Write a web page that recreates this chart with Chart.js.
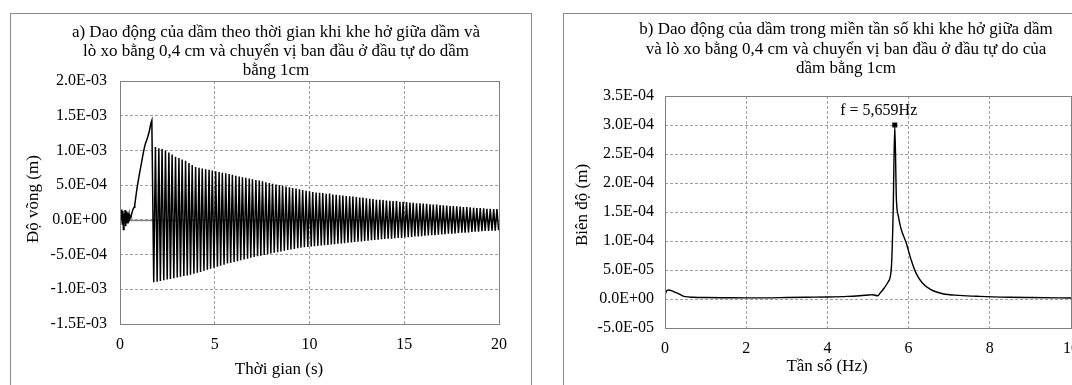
<!DOCTYPE html>
<html>
<head>
<meta charset="utf-8">
<script src="https://cdn.jsdelivr.net/npm/chart.js@4.4.0/dist/chart.umd.min.js"></script>
<style>
  html, body { margin: 0; padding: 0; background: #fff; }
  body { width: 1072px; height: 385px; overflow: hidden; position: relative; }
  .frame { position: absolute; top: 13px; height: 400px; border: 1px solid #8c8c8c; box-sizing: border-box; }
  #frameA { left: 10px; width: 522px; }
  #frameB { left: 563px; width: 560px; }
  canvas { position: absolute; }
  #chartA { left: 11px; top: 14px; width: 530px; height: 380px; }
  #chartB { left: 564px; top: 14px; width: 564px; height: 380px; }
</style>
</head>
<body>
<div class="frame" id="frameA"></div>
<div class="frame" id="frameB"></div>
<canvas id="chartA" width="530" height="380"></canvas>
<canvas id="chartB" width="564" height="380"></canvas>
<script>
// ---------- a) time response, deflection in 1e-4 m ----------
const startTime = [0, 0.03, 0.06, 0.09, 0.12, 0.15, 0.18, 0.21, 0.24, 0.27, 0.30, 0.33, 0.36, 0.39, 0.42, 0.45, 0.48, 0.51, 0.54,
  0.58, 0.62, 0.68, 0.74, 0.78, 0.84, 0.90, 0.98, 1.05, 1.12, 1.20, 1.27, 1.33, 1.40, 1.47, 1.55, 1.62, 1.68];
const startDefl = [0.1, 0.2, 0.1, 1.5, -0.6, 1.3, -1.4, 0.9, -0.3, 1.4, -0.9, 0.6, 1.2, -0.4, 1.0, 0.2, 0.8, 0.1, 0.3,
  0.4, 0.9, 1.5, 1.8, 2.2, 3.4, 4.6, 5.9, 7.0, 8.0, 9.2, 10.2, 10.9, 11.4, 12.0, 12.8, 13.8, 14.3];

const troughTime = [1.78, 1.96, 2.13, 2.31, 2.49, 2.66, 2.84, 3.02, 3.19, 3.37,
  3.55, 3.72, 3.90, 4.08, 4.25, 4.43, 4.61, 4.78, 4.96, 5.14,
  5.31, 5.49, 5.67, 5.84, 6.02, 6.20, 6.37, 6.55, 6.73, 6.90,
  7.08, 7.26, 7.43, 7.61, 7.79, 7.96, 8.14, 8.32, 8.49, 8.67,
  8.85, 9.02, 9.20, 9.38, 9.55, 9.73, 9.91, 10.09, 10.26, 10.44,
  10.62, 10.79, 10.97, 11.15, 11.32, 11.50, 11.68, 11.85, 12.03, 12.21,
  12.38, 12.56, 12.74, 12.91, 13.09, 13.27, 13.44, 13.62, 13.80, 13.97,
  14.15, 14.33, 14.50, 14.68, 14.86, 15.03, 15.21, 15.39, 15.56, 15.74,
  15.92, 16.09, 16.27, 16.45, 16.62, 16.80, 16.98, 17.15, 17.33, 17.51,
  17.68, 17.86, 18.04, 18.21, 18.39, 18.57, 18.74, 18.92, 19.10, 19.27,
  19.45, 19.63, 19.80, 19.98];
const troughDefl = [-9.0, -8.9, -8.8, -8.7, -8.6, -8.5, -8.4, -8.3, -8.2, -8.1,
  -8.0, -7.9, -7.75, -7.6, -7.5, -7.35, -7.2, -7.05, -6.9, -6.75,
  -6.6, -6.45, -6.3, -6.2, -6.05, -5.95, -5.8, -5.7, -5.6, -5.45,
  -5.35, -5.25, -5.15, -5.05, -4.95, -4.85, -4.75, -4.65, -4.55, -4.45,
  -4.35, -4.25, -4.2, -4.1, -4.0, -3.95, -3.9, -3.85, -3.8, -3.75,
  -3.7, -3.65, -3.6, -3.55, -3.5, -3.45, -3.4, -3.35, -3.3, -3.25,
  -3.2, -3.15, -3.1, -3.05, -3.0, -2.95, -2.9, -2.85, -2.8, -2.75,
  -2.7, -2.7, -2.65, -2.6, -2.6, -2.55, -2.5, -2.45, -2.4, -2.4,
  -2.35, -2.3, -2.25, -2.2, -2.2, -2.15, -2.1, -2.05, -2.0, -2.0,
  -1.95, -1.9, -1.85, -1.85, -1.8, -1.75, -1.7, -1.7, -1.65, -1.6,
  -1.6, -1.55, -1.55, -1.5];

const peakTime = [1.87, 2.05, 2.22, 2.40, 2.58, 2.75, 2.93, 3.11, 3.28, 3.46,
  3.64, 3.81, 3.99, 4.17, 4.34, 4.52, 4.70, 4.87, 5.05, 5.23,
  5.40, 5.58, 5.76, 5.93, 6.11, 6.29, 6.46, 6.64, 6.82, 6.99,
  7.17, 7.35, 7.52, 7.70, 7.88, 8.05, 8.23, 8.41, 8.58, 8.76,
  8.94, 9.11, 9.29, 9.47, 9.64, 9.82, 10.00, 10.17, 10.35, 10.53,
  10.70, 10.88, 11.06, 11.23, 11.41, 11.59, 11.76, 11.94, 12.12, 12.29,
  12.47, 12.65, 12.82, 13.00, 13.18, 13.35, 13.53, 13.71, 13.88, 14.06,
  14.24, 14.41, 14.59, 14.77, 14.94, 15.12, 15.30, 15.47, 15.65, 15.83,
  16.00, 16.18, 16.36, 16.53, 16.71, 16.89, 17.06, 17.24, 17.42, 17.59,
  17.77, 17.95, 18.12, 18.30, 18.48, 18.66, 18.83, 19.01, 19.19, 19.36,
  19.54, 19.72, 19.89];
const peakDefl = [10.5, 10.3, 10.2, 10.0, 9.7, 9.4, 9.1, 8.9, 8.7, 8.5,
  8.2, 7.9, 7.6, 7.5, 7.4, 7.3, 7.2, 7.1, 7.0, 6.9,
  6.8, 6.7, 6.6, 6.5, 6.35, 6.25, 6.15, 6.05, 5.95, 5.85,
  5.75, 5.65, 5.55, 5.4, 5.3, 5.2, 5.1, 5.0, 4.9, 4.8,
  4.7, 4.6, 4.5, 4.4, 4.3, 4.2, 4.1, 4.0, 3.95, 3.9,
  3.85, 3.75, 3.8, 3.65, 3.6, 3.55, 3.5, 3.45, 3.4, 3.35,
  3.3, 3.2, 3.2, 3.1, 3.05, 3.0, 2.9, 2.9, 2.85, 2.8,
  2.75, 2.7, 2.7, 2.6, 2.6, 2.55, 2.5, 2.45, 2.4, 2.4,
  2.35, 2.3, 2.25, 2.2, 2.2, 2.15, 2.1, 2.05, 2.0, 2.0,
  1.95, 1.9, 1.85, 1.85, 1.8, 1.75, 1.7, 1.7, 1.65, 1.6,
  1.6, 1.55, 1.55];

// ---------- b) spectrum, amplitude in 1e-5 m ----------
const freq = [0, 0.05, 0.1, 0.17, 0.25, 0.34, 0.42, 0.5, 0.7, 1.0, 1.5, 2.0, 2.5, 3.0, 3.5, 4.0, 4.5, 4.79,
  5.03, 5.11, 5.24, 5.30, 5.40, 5.48, 5.55, 5.58, 5.62, 5.659, 5.70, 5.75, 5.81, 5.94, 6.06, 6.18,
  6.34, 6.55, 6.84, 7.25, 7.74, 8.5, 9.0, 10.0];
const amp = [0.7, 1.5, 1.55, 1.4, 1.15, 0.9, 0.6, 0.4, 0.3, 0.25, 0.22, 0.2, 0.2, 0.25, 0.3, 0.35, 0.45, 0.57,
  0.7, 0.74, 0.57, 1.03, 1.9, 2.76, 3.9, 5.9, 15, 30, 17.1, 14.2, 12.2, 9.7, 6.8, 4.5,
  2.76, 1.6, 0.91, 0.62, 0.45, 0.3, 0.25, 0.17];
const peakFreq = 5.659;
const peakAmp = 30;
const peakLabel = 'f = 5,659Hz';

const titleA = ['a) Dao động của dầm theo thời gian khi khe hở giữa dầm và',
  'lò xo bằng 0,4 cm và chuyển vị ban đầu ở đầu tự do dầm', 'bằng 1cm'];
const titleB = ['b) Dao động của dầm trong miền tần số khi khe hở giữa dầm',
  'và lò xo bằng 0,4 cm và chuyển vị ban đầu ở đầu tự do của', 'dầm bằng 1cm'];

const FONT = "'Liberation Serif', 'Times New Roman', serif";

// build the points for chart a
const seriesA = [];
startTime.forEach((t, i) => seriesA.push({x: t, y: startDefl[i] * 1e-4}));
troughTime.forEach((t, k) => {
  seriesA.push({x: t, y: troughDefl[k] * 1e-4});
  if (k < peakTime.length) seriesA.push({x: peakTime[k], y: peakDefl[k] * 1e-4});
});
const seriesB = freq.map((f, i) => ({x: f, y: amp[i] * 1e-5}));

// 2.0E-03 style tick labels
function sci(v) {
  const parts = Number(v).toExponential(1).split('e');
  const e = parts[1];
  return parts[0] + 'E' + e[0] + e.slice(1).padStart(2, '0');
}

// plot border, zero line, axis titles, peak label
const decor = {
  id: 'decor',
  beforeDatasetsDraw(chart, args, o) {
    if (!o.zeroLine) return;
    const ctx = chart.ctx, a = chart.chartArea;
    const y = Math.round(chart.scales.y.getPixelForValue(0)) + 0.5;
    ctx.save();
    ctx.strokeStyle = '#858585';
    ctx.lineWidth = 1.3;
    ctx.beginPath(); ctx.moveTo(a.left, y); ctx.lineTo(a.right, y); ctx.stroke();
    ctx.restore();
  },
  afterDatasetsDraw(chart, args, o) {
    const ctx = chart.ctx, a = chart.chartArea;
    ctx.save();
    ctx.strokeStyle = '#808080';
    ctx.lineWidth = 1;
    ctx.strokeRect(Math.round(a.left) + 0.5, Math.round(a.top) + 0.5,
      Math.round(a.right - a.left), Math.round(a.bottom - a.top));
    ctx.fillStyle = '#000';
    ctx.textAlign = 'center';
    ctx.textBaseline = 'middle';
    ctx.font = '17px ' + FONT;
    ctx.fillText(o.xTitle, o.xTitlePos[0], o.xTitlePos[1]);
    ctx.translate(o.yTitlePos[0], o.yTitlePos[1]);
    ctx.rotate(-Math.PI / 2);
    ctx.fillText(o.yTitle, 0, 0);
    ctx.restore();
    if (o.label) {
      const px = chart.scales.x.getPixelForValue(peakFreq);
      const py = chart.scales.y.getPixelForValue(peakAmp * 1e-5);
      ctx.save();
      ctx.fillStyle = '#000';
      ctx.font = '16px ' + FONT;
      ctx.textAlign = 'center';
      ctx.textBaseline = 'middle';
      ctx.fillText(o.label, px - 16, py - 14);
      ctx.restore();
    }
  }
};

function axisX(min, max, step, pad, height) {
  return {
    type: 'linear', min: min, max: max,
    ticks: {stepSize: step, color: '#000', padding: pad, font: {family: FONT, size: 16}, maxRotation: 0},
    grid: {color: '#a0a0a0', lineWidth: 1, drawTicks: false},
    border: {display: false, dash: [3, 2]},
    afterFit(s) { s.height = height; }
  };
}
function axisY(min, max, step, pad, width) {
  return {
    type: 'linear', min: min, max: max,
    ticks: {stepSize: step, color: '#000', padding: pad, font: {family: FONT, size: 16}, callback: v => sci(v)},
    grid: {color: '#a0a0a0', lineWidth: 1, drawTicks: false},
    border: {display: false, dash: [3, 2]},
    afterFit(s) { s.width = width; }
  };
}
// empty right-hand box so the title stays centred on the whole chart
function spacer(width) {
  return {
    position: 'right', display: true,
    ticks: {display: false}, grid: {display: false}, border: {display: false},
    afterFit(s) { s.width = width; }
  };
}

new Chart(document.getElementById('chartA'), {
  type: 'scatter',
  data: {
    datasets: [{
      data: seriesA, showLine: true, borderColor: '#000', borderWidth: 1.5,
      pointRadius: 0, tension: 0, fill: false
    }]
  },
  options: {
    responsive: false, animation: false, events: [],
    layout: {padding: 0},
    scales: {
      x: axisX(0, 20, 5, 11, 70),
      y: axisY(-1.5e-3, 2.0e-3, 5e-4, 13, 109),
      pad: spacer(42)
    },
    plugins: {
      legend: {display: false},
      tooltip: {enabled: false},
      title: {
        display: true, text: titleA, color: '#000',
        font: {family: FONT, size: 17, weight: 'normal', lineHeight: 19 / 17},
        padding: {top: 9, bottom: 1}
      },
      decor: {
        zeroLine: true,
        xTitle: 'Thời gian (s)', xTitlePos: [268, 356],
        yTitle: 'Độ võng (m)', yTitlePos: [23, 185]
      }
    }
  },
  plugins: [decor]
});

new Chart(document.getElementById('chartB'), {
  type: 'scatter',
  data: {
    datasets: [{
      data: [{x: peakFreq, y: peakAmp * 1e-5}], showLine: false,
      pointStyle: 'rect', pointRadius: 3.5, backgroundColor: '#000', borderColor: '#000', borderWidth: 0
    }, {
      data: seriesB, showLine: true, borderColor: '#000', borderWidth: 1.4,
      pointRadius: 0, cubicInterpolationMode: 'monotone', fill: false
    }]
  },
  options: {
    responsive: false, animation: false, events: [],
    layout: {padding: 0},
    scales: {
      x: axisX(0, 10, 2, 11, 66),
      y: axisY(-5e-5, 3.5e-4, 5e-5, 11, 101),
      pad: spacer(57)
    },
    plugins: {
      legend: {display: false},
      tooltip: {enabled: false},
      title: {
        display: true, text: titleB, color: '#000',
        font: {family: FONT, size: 17, weight: 'normal', lineHeight: 19.5 / 17},
        padding: {top: 6.25, bottom: 17.25}
      },
      decor: {
        zeroLine: false,
        xTitle: 'Tần số (Hz)', xTitlePos: [263, 353],
        yTitle: 'Biên độ (m)', yTitlePos: [19, 191],
        label: peakLabel
      }
    }
  },
  plugins: [decor]
});
</script>
</body>
</html>
